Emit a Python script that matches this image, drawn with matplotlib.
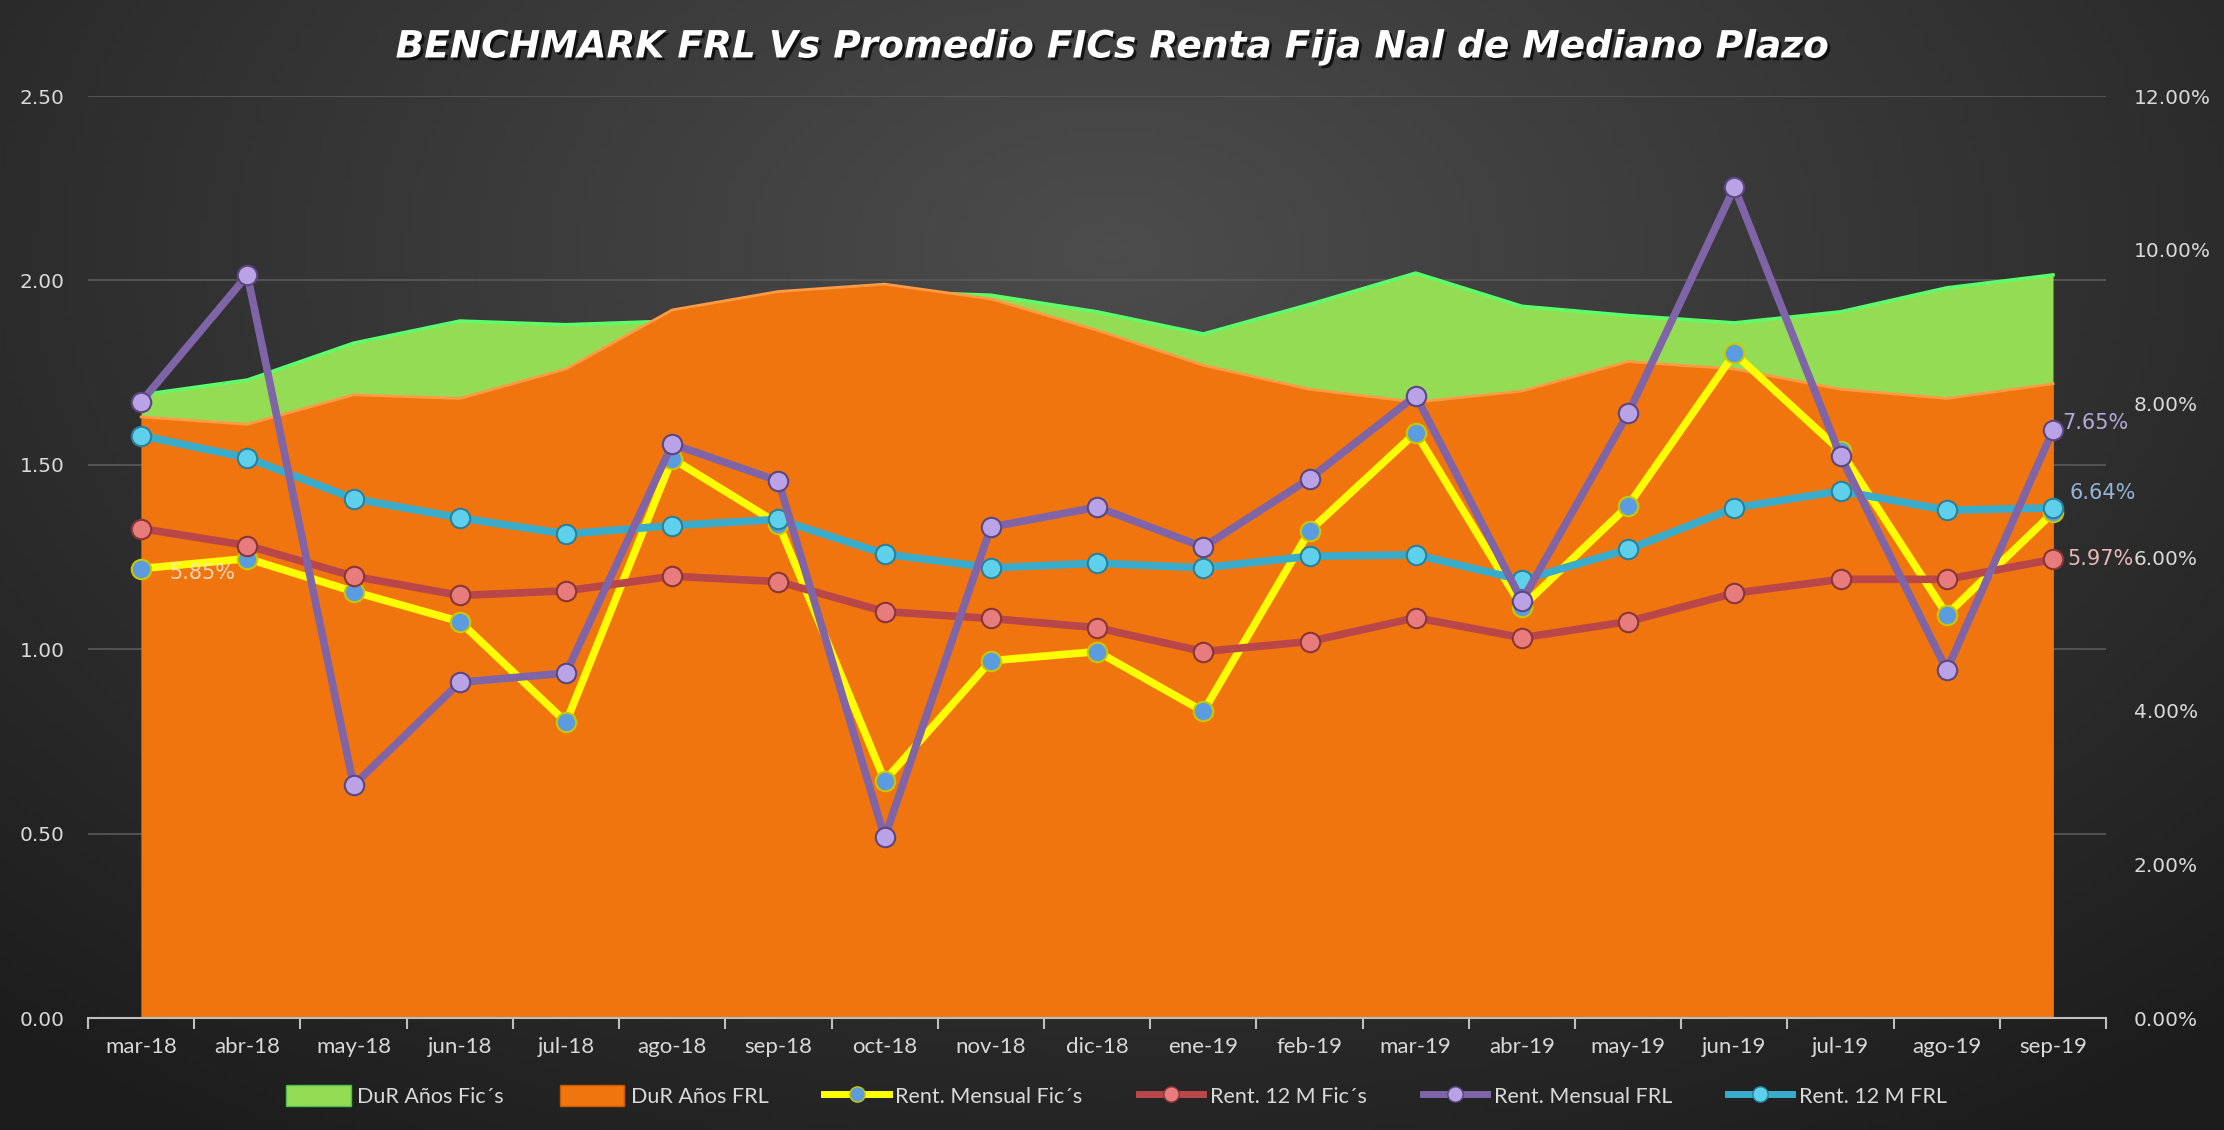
import numpy as np
import matplotlib.pyplot as plt
import matplotlib.patheffects as pe
from matplotlib.lines import Line2D
from matplotlib.patches import Patch

months = ['mar-18', 'abr-18', 'may-18', 'jun-18', 'jul-18', 'ago-18', 'sep-18',
          'oct-18', 'nov-18', 'dic-18', 'ene-19', 'feb-19', 'mar-19', 'abr-19',
          'may-19', 'jun-19', 'jul-19', 'ago-19', 'sep-19']

# duracion (anos) - eje izquierdo
dur_fics = [1.69, 1.73, 1.83, 1.89, 1.88, 1.89, 1.94, 1.97, 1.96, 1.915,
            1.855, 1.935, 2.02, 1.93, 1.905, 1.885, 1.915, 1.98, 2.015]
dur_frl = [1.63, 1.61, 1.69, 1.68, 1.76, 1.92, 1.97, 1.99, 1.95, 1.865,
           1.77, 1.705, 1.67, 1.70, 1.78, 1.76, 1.705, 1.68, 1.72]

# rentabilidades (%) - eje derecho
rent_mensual_fics = [5.85, 5.98, 5.55, 5.16, 3.85, 7.28, 6.43, 3.09, 4.65, 4.77,
                     3.99, 6.34, 7.62, 5.35, 6.67, 8.65, 7.38, 5.25, 6.58]
rent_12m_fics = [6.37, 6.15, 5.75, 5.50, 5.56, 5.75, 5.68, 5.29, 5.20, 5.08,
                 4.77, 4.90, 5.21, 4.95, 5.16, 5.53, 5.71, 5.71, 5.97]
rent_mensual_frl = [8.02, 9.67, 3.03, 4.37, 4.49, 7.47, 6.99, 2.35, 6.39, 6.65,
                    6.13, 7.02, 8.10, 5.43, 7.87, 10.81, 7.31, 4.53, 7.65]
rent_12m_frl = [7.58, 7.29, 6.76, 6.51, 6.30, 6.41, 6.49, 6.04, 5.86, 5.92,
                5.86, 6.01, 6.03, 5.70, 6.10, 6.64, 6.86, 6.61, 6.64]

title = 'BENCHMARK FRL Vs Promedio FICs Renta Fija Nal de Mediano Plazo'
txt_color = '#d9d9d9'
narrow = 'Lato'

fig = plt.figure(figsize=(22.24, 11.30), dpi=100)

# fondo con degradado radial
bg = fig.add_axes([0, 0, 1, 1])
gx, gy = np.meshgrid(np.linspace(0, 1, 400), np.linspace(0, 1, 200))
r = np.sqrt(((gx - 0.5) / 0.75) ** 2 + ((gy - 0.22) / 0.95) ** 2)
shade = np.clip(0.30 - 0.19 * r, 0.11, 0.30)
bg.imshow(np.dstack([shade] * 3), extent=[0, 1, 0, 1], aspect='auto', origin='upper')
bg.axis('off')

ax = fig.add_axes([0.0396, 0.0991, 0.9074, 0.8159])
ax.set_facecolor('none')
x = np.arange(len(months))

ax.fill_between(x, dur_fics, color='#95dc55', linewidth=0, zorder=1)
ax.plot(x, dur_fics, color='#5cff6a', linewidth=2.5, zorder=1.1)
ax.fill_between(x, dur_frl, color='#f0750f', linewidth=0, zorder=2)
ax.plot(x, dur_frl, color='#ff9a45', linewidth=2, zorder=2.1)

ax.set_xlim(-0.5, len(months) - 0.5)
ax.set_ylim(0, 2.5)
ax.set_yticks(np.arange(0, 2.51, 0.5))
ax.set_yticklabels([f'{v:.2f}' for v in np.arange(0, 2.51, 0.5)])
ax.set_axisbelow(True)
ax.grid(axis='y', color='#5a5a5a', linewidth=1.2)
ax.set_xticks(x)
ax.set_xticklabels(months, fontsize=16, family=narrow)
ax.set_xticks(np.arange(-0.5, len(months)), minor=True)
ax.tick_params(axis='x', which='major', length=0, colors=txt_color, pad=14)
ax.tick_params(axis='x', which='minor', length=8, color='#bfbfbf', width=1.5)
ax.tick_params(axis='y', length=0, colors=txt_color, labelsize=14.5, pad=17)
for s in ['top', 'left', 'right']:
    ax.spines[s].set_visible(False)
ax.spines['bottom'].set_color('#bfbfbf')
ax.spines['bottom'].set_linewidth(1.5)
ax.spines['bottom'].set_zorder(3)

ax2 = ax.twinx()
ax2.set_ylim(0, 12)
ax2.set_yticks(np.arange(0, 12.1, 2))
ax2.set_yticklabels([f'{v:.2f}%' for v in np.arange(0, 12.1, 2)])
ax2.tick_params(axis='y', length=0, colors=txt_color, labelsize=14.5, pad=20)
for s in ax2.spines.values():
    s.set_visible(False)

series = [
    (rent_mensual_fics, '#ffff00', '#5b9be0', '#c8c800', 'Rent. Mensual Fic´s'),
    (rent_12m_fics, '#b9474a', '#e87c7c', '#8a3535', 'Rent. 12 M Fic´s'),
    (rent_12m_frl, '#3aaccb', '#5fd0ec', '#2a7f99', 'Rent. 12 M FRL'),
    (rent_mensual_frl, '#8064a8', '#b9a3e6', '#5b4680', 'Rent. Mensual FRL'),
]
for vals, lc, fc, ec, lab in series:
    ax2.plot(x, vals, color=lc, linewidth=5.5, marker='o', markersize=14,
             markerfacecolor=fc, markeredgecolor=ec, markeredgewidth=1.5,
             solid_joinstyle='round')

# etiquetas de datos
lab_font = dict(fontsize=15, family='DejaVu Sans')
ax2.annotate(f'{rent_mensual_fics[0]:.2f}%', (x[0], rent_mensual_fics[0]),
             xytext=(20, -3), textcoords='offset points', va='center',
             color='#ece8d0', alpha=0.85, **lab_font)
ax2.annotate(f'{rent_mensual_frl[-1]:.2f}%', (x[-1], rent_mensual_frl[-1]),
             xytext=(7, 5), textcoords='offset points', va='center',
             color='#b4a9d8', **lab_font)
ax2.annotate(f'{rent_12m_frl[-1]:.2f}%', (x[-1], rent_12m_frl[-1]),
             xytext=(12, 11), textcoords='offset points', va='center',
             color='#95b3d7', **lab_font)
ax2.annotate(f'{rent_12m_fics[-1]:.2f}%', (x[-1], rent_12m_fics[-1]),
             xytext=(10, 0), textcoords='offset points', va='center',
             color='#e6b9b8', **lab_font)

fig.text(0.5, 0.958, title, ha='center', va='center', color='white',
         fontsize=27, fontweight='bold', fontstyle='italic', family='DejaVu Sans',
         path_effects=[pe.withSimplePatchShadow(offset=(2, -2), shadow_rgbFace='black', alpha=0.7)])

handles = [
    Patch(facecolor='#95dc55', edgecolor='#4fc04f', label='DuR Años Fic´s'),
    Patch(facecolor='#f0750f', edgecolor='#c85a00', label='DuR Años FRL'),
]
for vals, lc, fc, ec, lab in [series[0], series[1], series[3], series[2]]:
    handles.append(Line2D([], [], color=lc, linewidth=5, marker='o', markersize=11,
                          markerfacecolor=fc, markeredgecolor=ec, label=lab))
leg = fig.legend(handles=handles, loc='center', bbox_to_anchor=(0.502, 0.030), ncol=6,
                 frameon=False, handlelength=3.0, handleheight=1.1,
                 columnspacing=2.6, handletextpad=0.3, prop={'family': narrow, 'size': 15.5})
for t in leg.get_texts():
    t.set_color(txt_color)

fig.savefig('out.png', dpi=100)
